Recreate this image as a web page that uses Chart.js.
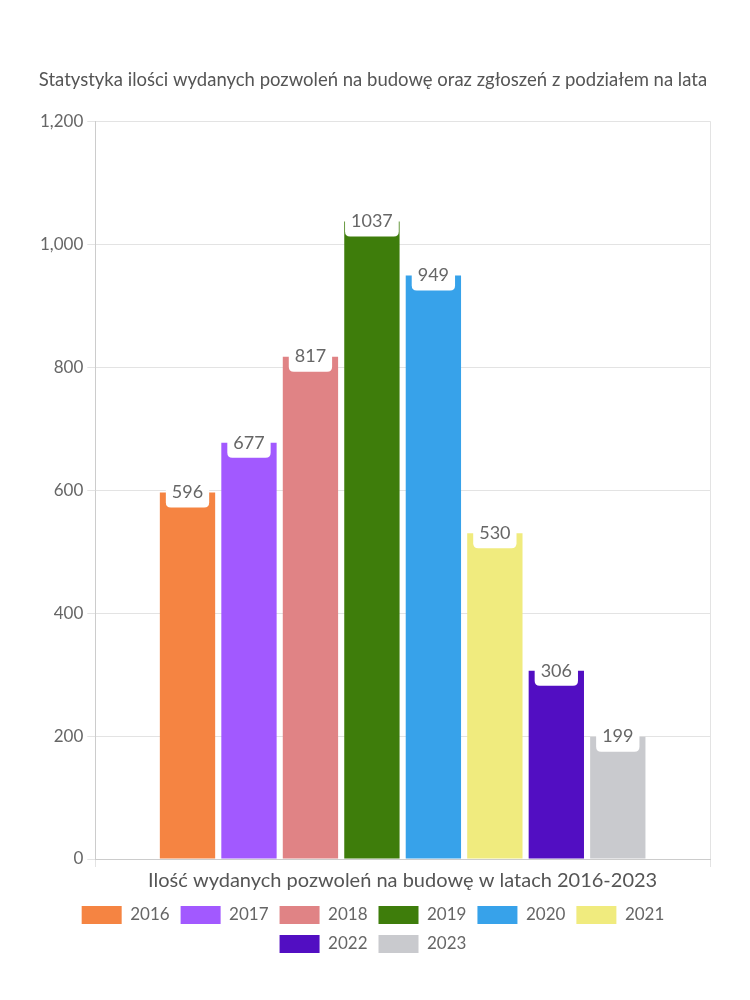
<!DOCTYPE html>
<html><head><meta charset="utf-8">
<script src="https://cdn.jsdelivr.net/npm/chart.js@4/dist/chart.umd.min.js"></script>
<style>html,body{margin:0;padding:0;background:#fff}#wrap{width:750px;height:1000px}</style>
</head><body><div id="wrap"><canvas id="c"></canvas></div>
<script>
const categories = ["Ilość wydanych pozwoleń na budowę w latach 2016-2023"];
const years = ["2016","2017","2018","2019","2020","2021","2022","2023"];
const values = [596, 677, 817, 1037, 949, 530, 306, 199];
const colors = ["#F58442","#A259FF","#E08385","#3E7D0B","#37A2EA","#F0EB7E","#520EC2","#C9CACE"];
const titleText = "Statystyka ilości wydanych pozwoleń na budowę oraz zgłoszeń z podziałem na lata";
const FONT = "Lato, 'Open Sans', sans-serif";

const labelPlugin = {
  id: 'valueBoxes',
  afterDatasetsDraw(chart) {
    const ctx = chart.ctx;
    chart.data.datasets.forEach((ds, i) => {
      const meta = chart.getDatasetMeta(i);
      if (meta.hidden) return;
      meta.data.forEach((el, j) => {
        const v = ds.data[j];
        const x = el.x, y = el.y;
        ctx.save();
        ctx.font = "18px " + FONT;
        const txt = String(v);
        const w = ctx.measureText(txt).width + 12;
        const top = y - 12, h = 27, r = 5;
        const l = x - w / 2;
        ctx.fillStyle = "#fff";
        ctx.beginPath();
        ctx.moveTo(l, top);
        ctx.lineTo(l + w, top);
        ctx.lineTo(l + w, top + h - r);
        ctx.quadraticCurveTo(l + w, top + h, l + w - r, top + h);
        ctx.lineTo(l + r, top + h);
        ctx.quadraticCurveTo(l, top + h, l, top + h - r);
        ctx.closePath();
        ctx.fill();
        ctx.fillStyle = "#666";
        ctx.textAlign = "center";
        ctx.textBaseline = "middle";
        ctx.fillText(txt, x, y);
        ctx.restore();
      });
    });
  }
};

new Chart(document.getElementById('c'), {
  type: 'bar',
  data: {
    labels: categories,
    datasets: years.map((y, i) => ({
      label: y,
      data: [values[i]],
      backgroundColor: colors[i],
      borderWidth: 0
    }))
  },
  options: {
    responsive: true,
    maintainAspectRatio: false,
    animation: false,
    devicePixelRatio: 1,
    layout: { padding: { top: 69, right: 40, left: 36, bottom: 37 } },
    plugins: {
      title: { display: true, text: titleText, color: "#555", font: { family: FONT, size: 18.5, weight: 'normal' }, padding: { top: 0, bottom: 30 } },
      legend: {
        position: 'bottom',
        labels: { boxWidth: 40, boxHeight: 18, color: "#666", font: { family: FONT, size: 17 }, padding: 11 }
      },
      tooltip: { enabled: false }
    },
    scales: {
      x: {
        grid: { color: "#e3e3e3", tickLength: 8 },
        border: { color: "#ccc" },
        ticks: { color: "#555", font: { family: FONT, size: 20 }, padding: 2 }
      },
      y: {
        min: 0, max: 1200,
        ticks: { stepSize: 200, color: "#666", font: { family: FONT, size: 17 }, padding: 4 },
        grid: { color: "#e3e3e3", tickLength: 8 },
        border: { color: "#ccc" }
      }
    }
  },
  plugins: [labelPlugin]
});
</script></body></html>
